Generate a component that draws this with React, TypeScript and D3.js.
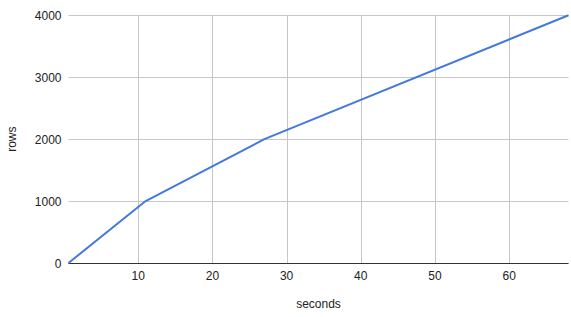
import React from "react";
import * as d3 from "d3";

const seconds = [0.6, 11, 27, 68];
const rows = [0, 1000, 2000, 4000];
const xTicks = [10, 20, 30, 40, 50, 60];
const yTicks = [0, 1000, 2000, 3000, 4000];
const xLabel = "seconds";
const yLabel = "rows";

const W = 571;
const H = 317;
const M = { left: 68.5, right: 2.5, top: 15.3, bottom: 54 };

export default function App() {
  const x = d3
    .scaleLinear()
    .domain([seconds[0], seconds[seconds.length - 1]])
    .range([M.left, W - M.right]);
  const y = d3
    .scaleLinear()
    .domain([0, 4000])
    .range([H - M.bottom, M.top]);
  const pts = seconds.map((s, i) => [s, rows[i]] as [number, number]);
  const line = d3
    .line<[number, number]>()
    .x((d) => x(d[0]))
    .y((d) => y(d[1]));
  const font = "Arial, 'Liberation Sans', sans-serif";
  return (
    <svg
      width={W}
      height={H}
      style={{ position: "absolute", left: 0, top: 0, background: "#fff" }}
      fontFamily={font}
    >
      <rect width={W} height={H} fill="#fff" />
      {yTicks.map((t) => (
        <line
          key={"gy" + t}
          x1={M.left}
          x2={W - M.right}
          y1={Math.round(y(t)) + 0.5}
          y2={Math.round(y(t)) + 0.5}
          stroke="#c6c6c6"
          strokeWidth={1}
        />
      ))}
      {xTicks.map((t) => (
        <line
          key={"gx" + t}
          x1={Math.round(x(t)) + 0.5}
          x2={Math.round(x(t)) + 0.5}
          y1={M.top}
          y2={H - M.bottom}
          stroke="#c6c6c6"
          strokeWidth={1}
        />
      ))}
      <line
        x1={M.left}
        x2={W - M.right}
        y1={Math.round(y(0)) + 0.5}
        y2={Math.round(y(0)) + 0.5}
        stroke="#333"
        strokeWidth={1}
      />
      {yTicks.map((t) => (
        <text
          key={"ty" + t}
          x={M.left - 7}
          y={y(t) + 4.5}
          textAnchor="end"
          fontSize={12}
          fill="#222"
        >
          {t}
        </text>
      ))}
      {xTicks.map((t) => (
        <text
          key={"tx" + t}
          x={x(t)}
          y={H - M.bottom + 17}
          textAnchor="middle"
          fontSize={12}
          fill="#222"
        >
          {t}
        </text>
      ))}
      <path
        d={line(pts) || ""}
        fill="none"
        stroke="#4479dc"
        strokeWidth={2}
        strokeLinejoin="round"
      />
      <text
        x={(M.left + W - M.right) / 2}
        y={H - 9}
        textAnchor="middle"
        fontSize={12}
        fill="#222"
      >
        {xLabel}
      </text>
      <text
        transform={`translate(16, ${(M.top + H - M.bottom) / 2}) rotate(-90)`}
        textAnchor="middle"
        fontSize={12}
        fill="#222"
      >
        {yLabel}
      </text>
    </svg>
  );
}
